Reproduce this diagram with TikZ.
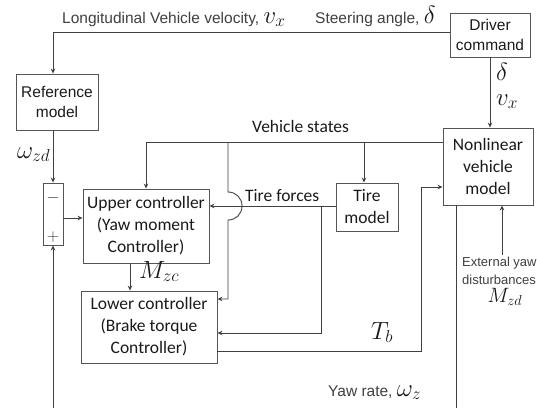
\documentclass[tikz,border=0pt]{standalone}
\usepackage{fontspec}
\setmainfont{Carlito}
\newfontfamily\arialf{Liberation Sans}
\usetikzlibrary{arrows.meta}
\definecolor{ln}{HTML}{404040}
\definecolor{bx}{HTML}{555555}
\definecolor{tx}{HTML}{1A1A1A}
\definecolor{gt}{HTML}{404040}
\newcommand\mbx[1]{{\color{tx}\fontsize{23}{23}\selectfont$#1$}}
\tikzset{
 blk/.style={draw=bx, line width=0.9pt, rectangle, inner sep=0pt, align=center, text=tx, font=\fontsize{17.5}{22}\selectfont},
 ablk/.style={blk, font=\arialf\fontsize{15.5}{20.5}\selectfont},
 wire/.style={draw=ln, line width=0.9pt},
 arr/.style={wire, -{Stealth[length=5pt,width=4.5pt]}},
 lab/.style={inner sep=0pt, text=gt, font=\arialf\fontsize{15.5}{18}\selectfont},
 slab/.style={inner sep=0pt, text=gt, font=\arialf\fontsize{13}{16}\selectfont},
 clab/.style={inner sep=0pt, text=tx, font=\fontsize{17.5}{20}\selectfont},
 mth/.style={inner sep=0pt, text=tx, font=\fontsize{23}{23}\selectfont},
}
\begin{document}
\begin{tikzpicture}[x=1pt,y=-1pt]
\useasboundingbox (0,0) rectangle (537,408);
\fill[white] (0,0) rectangle (537,408);
% blocks
\node[ablk, minimum width=82, minimum height=56] (ref) at (57,102) {Reference\\model};
\node[ablk, minimum width=80, minimum height=44] (drv) at (490,35) {Driver\\command};
\node[blk, minimum width=90, minimum height=77] (nl) at (488,166.5) {Nonlinear\\vehicle\\model};
\node[blk, minimum width=20, minimum height=62] (sum) at (53,214) {};
\node[blk, minimum width=126, minimum height=74] (up) at (146,226) {Upper controller\\(Yaw moment\\Controller)};
\node[blk, minimum width=136, minimum height=72] (low) at (149,327) {Lower controller\\(Brake torque\\Controller)};
\node[blk, minimum width=62, minimum height=48] (tire) at (367,207) {Tire\\model};
\node[clab, text=gt] (mi) at (53,198) {$-$};
\node[clab, text=gt] (pl) at (53,237) {$+$};
% coordinates
\coordinate (tl) at (53,32);
\coordinate (sa) at (63,218);
\coordinate (fb) at (53,408);
\coordinate (yr) at (456,408);
\coordinate (vs) at (146,142);
\coordinate (vt) at (364,142);
\coordinate (vb) at (228,142);
\coordinate (h1) at (228,192);
\coordinate (h2) at (228,220);
\coordinate (lb) at (228,299);
\coordinate (tf) at (321,206);
\coordinate (tf2) at (321,333);
\coordinate (mz) at (130,263);
\coordinate (tb1) at (421,351);
\coordinate (tb2) at (421,187);
\coordinate (ex) at (502,255);
% connectors
\draw[arr] (drv.west |- tl) -- (tl) -- (ref.north -| tl);
\draw[arr] (ref.south -| tl) -- (sum.north);
\draw[arr] (sum.east |- sa) -- (up.west |- sa);
\draw[arr] (fb) -- (sum.south);
\draw[wire] (nl.south -| yr) -- (yr);
\draw[arr] (nl.west |- vs) -- (vs) -- (up.north);
\draw[arr] (vt) -- (vt |- tire.north);
\draw[arr] (vb) -- (h1) .. controls (236,192) and (242,198) .. (242,206) .. controls (242,214) and (236,220) .. (h2) -- (lb) -- (low.east |- lb);
\draw[arr] (tire.west |- tf) -- (up.east |- tf);
\draw[arr] (tf) -- (tf2) -- (low.east |- tf2);
\draw[arr] (up.south -| mz) -- (low.north -| mz);
\draw[arr] (low.east |- tb1) -- (tb1) -- (tb2) -- (nl.west |- tb2);
\draw[arr] (ex) -- (ex |- nl.south);
\draw[arr] (drv.south) -- (drv.south |- nl.north);
% labels
\node[lab, anchor=base west] (l1) at (62,23) {Longitudinal Vehicle velocity, \mbx{v_x}};
\node[lab, anchor=base west] (l2) at (315,23) {Steering angle, \mbx{\delta}};
\node[mth, anchor=base west] (wzd) at (17,158) {$\omega_{zd}$};
\node[mth, anchor=base west] (dd) at (496,80) {$\delta$};
\node[mth, anchor=base west] (vx) at (496,105) {$v_x$};
\node[mth, anchor=base west] (mzc) at (139,278) {$M_{zc}$};
\node[mth, anchor=base west] (tb) at (371,339) {$T_b$};
\node[lab, anchor=base west] (yaw) at (328,396) {Yaw rate, \mbx{\omega_z}};
\node[clab, anchor=base west] (vst) at (252,132) {Vehicle states};
\node[clab, anchor=base west] (tfl) at (245,201) {Tire forces};
\node[slab, anchor=base west] (ext1) at (462,266) {External yaw};
\node[slab, anchor=base west] (ext2) at (462,284) {disturbances};
\node[mth, anchor=base, font=\fontsize{20}{20}\selectfont] (mzd) at (505,302) {$M_{zd}$};
\end{tikzpicture}
\end{document}
